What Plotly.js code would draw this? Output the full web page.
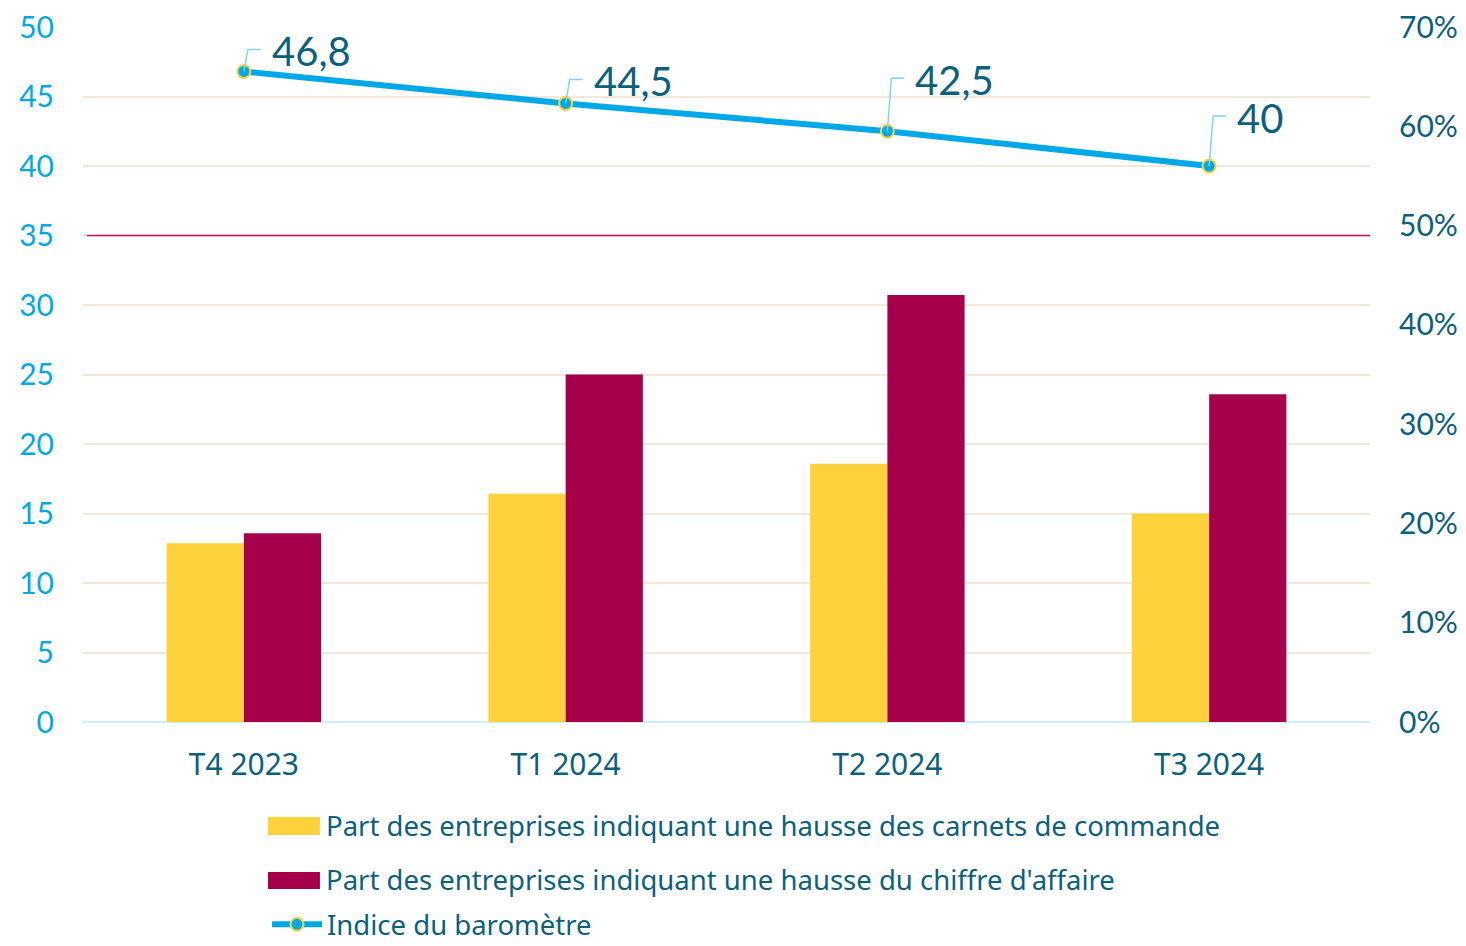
<!DOCTYPE html>
<html>
<head>
<meta charset="utf-8">
<script src="https://cdn.plot.ly/plotly-3.0.1.min.js"></script>
<style>html,body{margin:0;padding:0;background:#fff;}#chart{width:1466px;height:946px;}</style>
</head>
<body>
<div id="chart"></div>
<script>
const categories = ["T4 2023", "T1 2024", "T2 2024", "T3 2024"];
const carnetsShare = [0.18, 0.23, 0.26, 0.21];
const chiffreShare = [0.19, 0.35, 0.43, 0.33];
const indice = [46.8, 44.5, 42.5, 40];
const indiceLabels = ["46,8", "44,5", "42,5", "40"];
const threshold = 35;
const seriesNames = [
  "Part des entreprises indiquant une hausse des carnets de commande",
  "Part des entreprises indiquant une hausse du chiffre d'affaire",
  "Indice du baromètre"
];
// label placement offsets (pixels above marker)
const labelRise = [22, 24, 53, 50];

const dark = "#0b5f80", cyan = "#00a8e8", yellow = "#fdd13b", wine = "#a7004a";

const traces = [
  {type: "bar", name: seriesNames[0], x: categories, y: carnetsShare, yaxis: "y2",
   marker: {color: yellow}, showlegend: false, hoverinfo: "skip"},
  {type: "bar", name: seriesNames[1], x: categories, y: chiffreShare, yaxis: "y2",
   marker: {color: wine}, showlegend: false, hoverinfo: "skip"},
  {type: "scatter", mode: "lines+markers", name: seriesNames[2], x: categories, y: indice, yaxis: "y",
   line: {color: cyan, width: 6}, marker: {color: cyan, size: 13, line: {color: yellow, width: 2}},
   showlegend: true, hoverinfo: "skip"}
];

const annotations = indice.map((v, i) => ({
  x: categories[i], y: v, xref: "x", yref: "y", text: indiceLabels[i],
  showarrow: true, arrowhead: 0, arrowwidth: 0.001, arrowcolor: "rgba(0,0,0,0)",
  ax: 26, ay: -labelRise[i] + 2, xanchor: "left", yanchor: "middle",
  font: {family: "Lato, 'Noto Sans', sans-serif", size: 40, color: dark}
}));

const shapes = indice.map((v, i) => ({
  type: "path", xref: "x", yref: "y", xsizemode: "pixel", ysizemode: "pixel",
  xanchor: categories[i], yanchor: v,
  path: `M0,0 L4,${labelRise[i]} L17,${labelRise[i]}`,
  line: {color: "#80d4f5", width: 1.5}
}));
shapes.unshift({type: "line", xref: "paper", yref: "y", x0: 0.003, x1: 1, y0: threshold, y1: threshold,
  line: {color: "#c2185b", width: 1.3}, layer: "above"});

// custom legend entries for the bar series (wide swatches)
const legendRows = [
  {color: yellow, name: seriesNames[0], y0: -0.1367, y1: -0.1626, ty: -0.1496},
  {color: wine, name: seriesNames[1], y0: -0.2158, y1: -0.2403, ty: -0.2273}
];
legendRows.forEach(r => {
  shapes.push({type: "rect", xref: "paper", yref: "paper", x0: 0.1437, x1: 0.1841, y0: r.y0, y1: r.y1,
    fillcolor: r.color, line: {width: 0}});
  annotations.push({xref: "paper", yref: "paper", x: 0.187, y: r.ty, xanchor: "left", yanchor: "middle",
    showarrow: false, text: r.name, font: {size: 27.5, color: dark, family: "'Noto Sans', sans-serif"}});
});

const layout = {
  width: 1466, height: 946,
  margin: {l: 83, r: 96, t: 27, b: 224, autoexpand: false},
  paper_bgcolor: "#fff", plot_bgcolor: "#fff",
  barmode: "group", bargap: 0.52, bargroupgap: 0,
  font: {family: "'Noto Sans', 'Open Sans', sans-serif", color: dark},
  xaxis: {
    type: "category", tickfont: {size: 30, color: dark, family: "'Noto Sans', sans-serif"},
    showgrid: false, zeroline: false, showline: false, ticks: "", ticklabelstandoff: 22
  },
  yaxis: {
    range: [0, 50], dtick: 5, tick0: 0, showgrid: true, gridcolor: "#f2e8da", gridwidth: 2,
    zeroline: true, zerolinecolor: "#cdeefa", zerolinewidth: 2,
    tickfont: {size: 30, color: "#00a9e6", family: "Lato, sans-serif"},
    ticks: "", ticklabelstandoff: 28, showline: false
  },
  yaxis2: {
    range: [0, 0.7], dtick: 0.1, tick0: 0, overlaying: "y", side: "right", tickformat: ".0%",
    showgrid: false, zeroline: false, showline: false, ticks: "",
    tickfont: {size: 30, color: dark, family: "Lato, sans-serif"}, ticklabelstandoff: 28
  },
  showlegend: true,
  legend: {
    orientation: "v", x: 0.143, xanchor: "left", y: -0.256, yanchor: "top",
    font: {size: 27.5, color: dark, family: "'Noto Sans', sans-serif"},
    itemwidth: 50, bgcolor: "rgba(0,0,0,0)"
  },
  annotations: annotations,
  shapes: shapes
};

Plotly.newPlot("chart", traces, layout, {displayModeBar: false, staticPlot: true});
</script>
</body>
</html>
